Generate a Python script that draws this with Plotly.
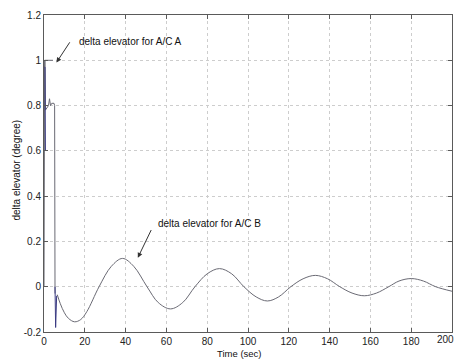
import plotly.graph_objects as go

# --- data ---
# early transient of the A/C A response (dark blue segments)
a_time = [0.3, 0.5, 0.7, None, 5.4, 5.7, 6.2]
a_value = [0.97, 0.97, 0.60, None, 0.0, -0.18, -0.04]

# plateau at 1.0 (annotated "A/C A")
plateau_time = [0.0, 0.3, 4.4]
plateau_value = [0.0, 1.0, 1.0]

# early transient of the gray curve
b_trans_time = [0.5, 0.7, 2.2, 2.7, 3.2, 3.8, 4.9, 5.2, 5.4]
b_trans_value = [1.0, 0.78, 0.80, 0.83, 0.80, 0.81, 0.81, 0.80, -0.03]

# damped oscillation (annotated "A/C B")
b_time = [6.5, 8, 10, 12, 15, 18, 21, 27, 33, 38.5, 44, 50.5, 56, 62, 68, 74,
          80, 86, 92, 98, 104, 109.5, 115, 121, 127, 133, 139, 145, 151, 157,
          163, 169, 174, 180, 186, 192, 200]
b_value = [-0.035, -0.075, -0.115, -0.14, -0.155, -0.145, -0.11, 0.0, 0.09,
           0.125, 0.09, 0.0, -0.07, -0.098, -0.07, 0.0, 0.057, 0.08, 0.057,
           0.0, -0.045, -0.063, -0.045, 0.0, 0.035, 0.05, 0.035, 0.0, -0.028,
           -0.04, -0.028, 0.0, 0.025, 0.036, 0.025, 0.0, -0.02]

x_ticks = [0, 20, 40, 60, 80, 100, 120, 140, 160, 180, 200]
x_tick_text = ["0", "20", "40", "60", "80", "100", "120", "140", "160", "180", ""]
last_x_label = "200"
y_ticks = [-0.2, 0, 0.2, 0.4, 0.6, 0.8, 1.0, 1.2]
y_tick_text = ["-0.2", "0", "0.2", "0.4", "0.6", "0.8", "1", "1.2"]

GRAY = "#6a6a74"
NAVY = "#3a3a82"
FONT = "Liberation Sans, Arial, sans-serif"

fig = go.Figure()
fig.add_trace(go.Scatter(x=plateau_time, y=plateau_value, mode="lines",
                         line=dict(color=GRAY, width=1), showlegend=False))
fig.add_trace(go.Scatter(x=b_trans_time, y=b_trans_value, mode="lines",
                         line=dict(color=GRAY, width=1), showlegend=False))
fig.add_trace(go.Scatter(x=b_time, y=b_value, mode="lines",
                         line=dict(color=GRAY, width=1, shape="spline", smoothing=1.0),
                         showlegend=False))
fig.add_trace(go.Scatter(x=a_time, y=a_value, mode="lines", connectgaps=False,
                         line=dict(color=NAVY, width=1), showlegend=False))

axis_common = dict(
    showgrid=True, gridcolor="#cdcdcd", griddash="dot", gridwidth=1,
    zeroline=False, showline=True, linecolor="#5a5a5a", linewidth=1,
    mirror="allticks", ticks="inside", ticklen=4, tickcolor="#5a5a5a",
    tickfont=dict(family=FONT, size=10, color="#222"),
)

fig.update_xaxes(range=[0, 200], tickvals=x_ticks, ticktext=x_tick_text,
                 **axis_common)
fig.update_yaxes(range=[-0.2, 1.2], tickvals=y_ticks, ticktext=y_tick_text,
                 **axis_common)

ann_font = dict(family=FONT, size=10, color="#111")
fig.add_annotation(x=6.1, y=0.99, ax=13.1, ay=1.086, axref="x", ayref="y",
                   xref="x", yref="y", text="", showarrow=True, arrowhead=2,
                   arrowsize=1, arrowwidth=1, arrowcolor="#333", standoff=0)
fig.add_annotation(x=16.4, y=1.083, xref="x", yref="y", xanchor="left",
                   yanchor="middle", text="delta elevator for A/C A",
                   showarrow=False, font=ann_font)
fig.add_annotation(x=46, y=0.128, ax=52.9, ay=0.257, axref="x", ayref="y",
                   xref="x", yref="y", text="", showarrow=True, arrowhead=2,
                   arrowsize=1, arrowwidth=1, arrowcolor="#333", standoff=0)
fig.add_annotation(x=55.1, y=0.278, xref="x", yref="y", xanchor="left",
                   yanchor="middle", text="delta elevator for A/C B",
                   showarrow=False, font=ann_font)
# last x tick label, kept inside the window
fig.add_annotation(x=1.0093, y=-0.0252, xref="paper", yref="paper",
                   xanchor="right", yanchor="middle", text=last_x_label,
                   showarrow=False, font=dict(family=FONT, size=10, color="#222"))
# axis titles
fig.add_annotation(x=0.48, y=-0.0883, xref="paper", yref="paper",
                   xanchor="center", yanchor="bottom", text="Time (sec)",
                   showarrow=False, font=dict(family=FONT, size=9.5, color="#111"),
                   borderpad=0)
fig.add_annotation(x=-0.0674, y=0.511, xref="paper", yref="paper",
                   xanchor="center", yanchor="middle", textangle=-90,
                   text="delta elevator (degree)", showarrow=False,
                   font=ann_font)

fig.update_layout(
    width=456, height=360,
    margin=dict(l=44, r=4, t=15, b=28),
    paper_bgcolor="white", plot_bgcolor="white",
    font=dict(family=FONT, size=10),
)

fig.write_html("out.html")
